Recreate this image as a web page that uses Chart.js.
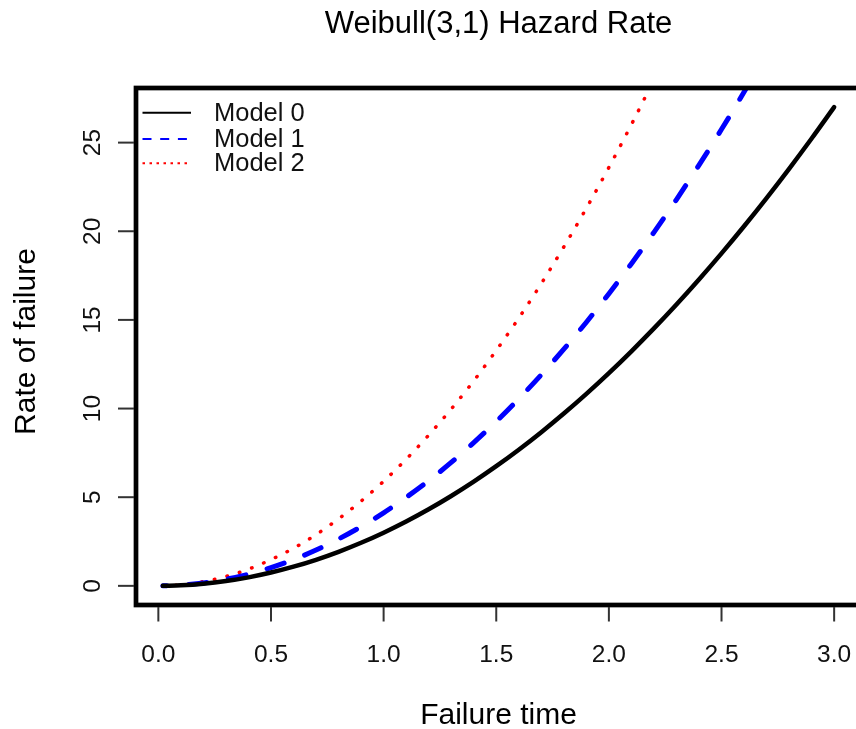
<!DOCTYPE html>
<html>
<head>
<meta charset="utf-8">
<script src="https://cdn.jsdelivr.net/npm/chart.js@4.4.0/dist/chart.umd.min.js"></script>
<style>
  html, body { margin: 0; padding: 0; background: #fff; overflow: hidden; }
  #wrap { width: 856px; height: 729px; overflow: hidden; position: relative; }
  canvas { display: block; }
</style>
</head>
<body>
<div id="wrap"><canvas id="c" width="880" height="729"></canvas></div>
<script>
const chartTitle = "Weibull(3,1) Hazard Rate";
const xTitle = "Failure time";
const yTitle = "Rate of failure";
const seriesNames = ["Model 0", "Model 1", "Model 2"];
const failureTime = [0.02, 0.1, 0.2, 0.3, 0.4, 0.5, 0.6, 0.7, 0.8, 0.9, 1.0,
  1.1, 1.2, 1.3, 1.4, 1.5, 1.6, 1.7, 1.8, 1.9, 2.0,
  2.1, 2.2, 2.3, 2.4, 2.5, 2.6, 2.7, 2.8, 2.9, 3.0];
const model0 = [0.001, 0.03, 0.12, 0.27, 0.48, 0.75, 1.08, 1.47, 1.92, 2.43, 3.00,
  3.63, 4.32, 5.07, 5.88, 6.75, 7.68, 8.67, 9.72, 10.83, 12.00,
  13.23, 14.52, 15.87, 17.28, 18.75, 20.28, 21.87, 23.52, 25.23, 27.00];
const model1 = [0.002, 0.04, 0.16, 0.37, 0.66, 1.03, 1.48, 2.02, 2.64, 3.34, 4.12,
  4.99, 5.93, 6.96, 8.08, 9.27, 10.55, 11.91, 13.35, 14.87, 16.48,
  18.17, 19.94, 21.79, 23.73, 25.75, 27.85, 30.03, 32.30];
const model2 = [0.002, 0.06, 0.24, 0.53, 0.94, 1.48, 2.12, 2.89, 3.78, 4.78, 5.90,
  7.14, 8.50, 9.97, 11.56, 13.28, 15.10, 17.05, 19.12, 21.30, 23.60,
  26.02, 28.56, 31.21];
const xTicks = [0, 0.5, 1, 1.5, 2, 2.5, 3];
const xTickLabels = ["0.0", "0.5", "1.0", "1.5", "2.0", "2.5", "3.0"];
const yTicks = [0, 5, 10, 15, 20, 25];
const yTickLabels = ["0", "5", "10", "15", "20", "25"];

const FONT = '"Liberation Sans", Arial, Helvetica, sans-serif';
function pts(vals) { return vals.map((v, i) => ({ x: failureTime[i], y: v })); }

const rPlot = {
  id: 'rPlot',
  afterDatasetsDraw(chart) {
    const ctx = chart.ctx;
    const a = chart.chartArea;
    const xs = chart.scales.x, ys = chart.scales.y;
    ctx.save();
    // box
    ctx.strokeStyle = '#000';
    ctx.lineWidth = 4.7;
    ctx.strokeRect(a.left, a.top, a.right - a.left, a.bottom - a.top);
    // x ticks
    ctx.lineWidth = 2;
    ctx.strokeStyle = '#333';
    ctx.fillStyle = '#111';
    ctx.font = '24.5px ' + FONT;
    ctx.textAlign = 'center';
    ctx.textBaseline = 'alphabetic';
    xTicks.forEach((t, i) => {
      const px = xs.getPixelForValue(t);
      ctx.beginPath(); ctx.moveTo(px, a.bottom + 2); ctx.lineTo(px, 621.5); ctx.stroke();
      ctx.fillText(xTickLabels[i], px, 661.5);
    });
    // y ticks
    yTicks.forEach((t, i) => {
      const py = ys.getPixelForValue(t);
      ctx.beginPath(); ctx.moveTo(118, py); ctx.lineTo(a.left - 2, py); ctx.stroke();
      ctx.save();
      ctx.translate(100, py);
      ctx.rotate(-Math.PI / 2);
      ctx.fillText(yTickLabels[i], 0, 0);
      ctx.restore();
    });
    // titles
    ctx.fillStyle = '#000';
    ctx.font = '31px ' + FONT;
    const cx = (a.left + a.right) / 2;
    ctx.fillText(chartTitle, cx, 33);
    ctx.font = '30px ' + FONT;
    ctx.fillText(xTitle, cx, 724);
    ctx.save();
    ctx.translate(35, (a.top + a.bottom) / 2 - 5);
    ctx.rotate(-Math.PI / 2);
    ctx.fillText(yTitle, 0, 0);
    ctx.restore();
    // legend
    const leg = [
      { y: 112.7, color: '#000', dash: [] , w: 2},
      { y: 139, color: '#0000ff', dash: [9, 8.7], w: 2 },
      { y: 163.3, color: '#ff0000', dash: [2.5, 4.5], w: 2 }
    ];
    ctx.font = '25.5px ' + FONT;
    ctx.textAlign = 'left';
    ctx.textBaseline = 'middle';
    leg.forEach((l, i) => {
      ctx.strokeStyle = l.color;
      ctx.lineWidth = l.w;
      ctx.setLineDash(l.dash);
      ctx.beginPath(); ctx.moveTo(142.5, l.y); ctx.lineTo(191, l.y); ctx.stroke();
      ctx.setLineDash([]);
      ctx.fillStyle = '#111';
      ctx.fillText(seriesNames[i], 214, l.y + 1);
    });
    ctx.restore();
  }
};

new Chart(document.getElementById('c'), {
  type: 'line',
  data: {
    datasets: [
      { label: seriesNames[0], data: pts(model0), borderColor: '#000', borderWidth: 4.5,
        pointRadius: 0, cubicInterpolationMode: 'monotone', clip: 0, borderCapStyle: 'round' },
      { label: seriesNames[1], data: pts(model1), borderColor: '#0000ff', borderWidth: 5,
        borderDash: [18, 22], borderDashOffset: 14, borderCapStyle: 'round',
        pointRadius: 0, cubicInterpolationMode: 'monotone', clip: 0 },
      { label: seriesNames[2], data: pts(model2), borderColor: '#ff0000', borderWidth: 3.5,
        borderDash: [0.5, 12.5], borderCapStyle: 'round',
        pointRadius: 0, cubicInterpolationMode: 'monotone', clip: 0 }
    ]
  },
  options: {
    responsive: false,
    animation: false,
    layout: { padding: { left: 136, right: 19, top: 88, bottom: 124 } },
    plugins: { legend: { display: false }, tooltip: { enabled: false }, title: { display: false } },
    scales: {
      x: { type: 'linear', min: -0.0992, max: 3.1192, display: false },
      y: { type: 'linear', min: -1.08, max: 28.08, display: false }
    }
  },
  plugins: [rPlot]
});
</script>
</body>
</html>
